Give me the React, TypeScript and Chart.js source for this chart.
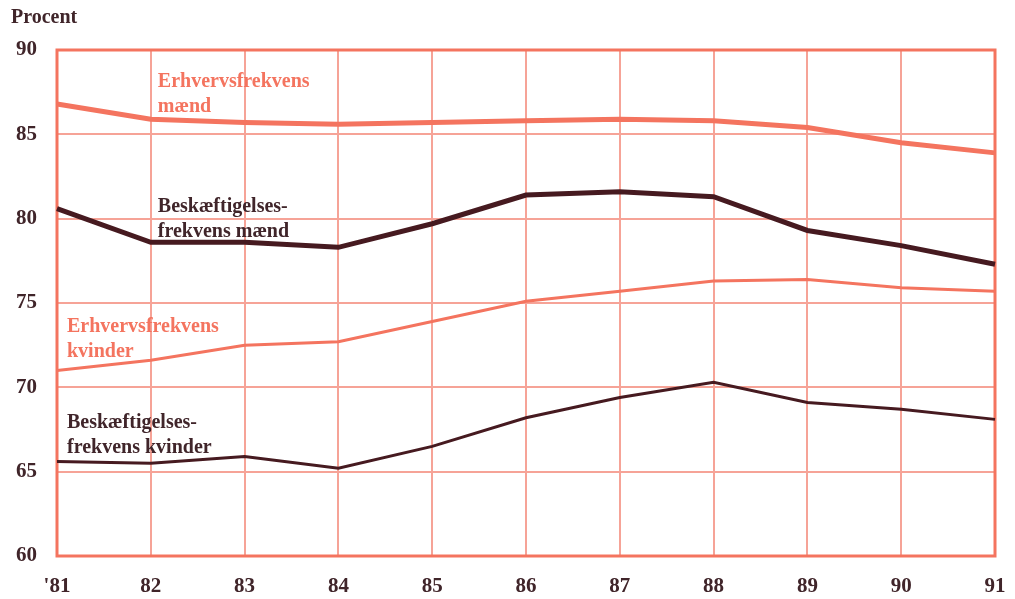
import React, { useEffect, useRef } from "react";
import { Chart, registerables } from "chart.js";

Chart.register(...registerables);

const years = ["'81", "82", "83", "84", "85", "86", "87", "88", "89", "90", "91"];
const erhvMaend = [86.8, 85.9, 85.7, 85.6, 85.7, 85.8, 85.9, 85.8, 85.4, 84.5, 83.9];
const beskMaend = [80.6, 78.6, 78.6, 78.3, 79.7, 81.4, 81.6, 81.3, 79.3, 78.4, 77.3];
const erhvKvinder = [71.0, 71.6, 72.5, 72.7, 73.9, 75.1, 75.7, 76.3, 76.4, 75.9, 75.7];
const beskKvinder = [65.6, 65.5, 65.9, 65.2, 66.5, 68.2, 69.4, 70.3, 69.1, 68.7, 68.1];
const yTicks = [60, 65, 70, 75, 80, 85, 90];

const SALMON = "#f4745f";
const GRID = "#f6a397";
const DARK = "#461a20";
const TEXT = "#40252a";
const FONT = "'Liberation Serif', 'DejaVu Serif', serif";

type Note = { lines: string[]; xIndex: number; yValue: number; color: string; dx: number };
const notes: Note[] = [
  { lines: ["Erhvervsfrekvens", "mænd"], xIndex: 1, yValue: 88.1, color: SALMON, dx: 7 },
  { lines: ["Beskæftigelses-", "frekvens mænd"], xIndex: 1, yValue: 80.7, color: TEXT, dx: 7 },
  { lines: ["Erhvervsfrekvens", "kvinder"], xIndex: 0, yValue: 73.6, color: SALMON, dx: 10 },
  { lines: ["Beskæftigelses-", "frekvens kvinder"], xIndex: 0, yValue: 67.9, color: TEXT, dx: 10 },
];

const notesPlugin = {
  id: "notes",
  afterDatasetsDraw(chart: any) {
    const ctx = chart.ctx;
    const xs = chart.scales.x;
    const ys = chart.scales.y;
    ctx.save();
    ctx.font = `bold 20px ${FONT}`;
    ctx.textAlign = "left";
    ctx.textBaseline = "middle";
    for (const n of notes) {
      const x = xs.getPixelForValue(n.xIndex) + n.dx;
      const y = ys.getPixelForValue(n.yValue);
      ctx.fillStyle = n.color;
      n.lines.forEach((l, i) => ctx.fillText(l, x, y + i * 25));
    }
    ctx.fillStyle = TEXT;
    ctx.font = `bold 20px ${FONT}`;
    ctx.textBaseline = "middle";
    ctx.fillText("Procent", 11, 18);
    ctx.restore();
  },
  beforeDatasetsDraw(chart: any) {
    const { ctx, chartArea } = chart;
    ctx.save();
    ctx.strokeStyle = SALMON;
    ctx.lineWidth = 3;
    ctx.strokeRect(chartArea.left, chartArea.top, chartArea.right - chartArea.left, chartArea.bottom - chartArea.top);
    ctx.restore();
  },
};

export default function App() {
  const ref = useRef<HTMLCanvasElement>(null);
  useEffect(() => {
    document.body.style.margin = "0";
    const chart = new Chart(ref.current!, {
      type: "line",
      data: {
        labels: years,
        datasets: [
          { label: "Erhvervsfrekvens mænd", data: erhvMaend, borderColor: SALMON, borderWidth: 5, pointRadius: 0, tension: 0 },
          { label: "Beskæftigelsesfrekvens mænd", data: beskMaend, borderColor: DARK, borderWidth: 5, pointRadius: 0, tension: 0 },
          { label: "Erhvervsfrekvens kvinder", data: erhvKvinder, borderColor: SALMON, borderWidth: 3, pointRadius: 0, tension: 0 },
          { label: "Beskæftigelsesfrekvens kvinder", data: beskKvinder, borderColor: DARK, borderWidth: 3, pointRadius: 0, tension: 0 },
        ],
      },
      options: {
        animation: false,
        responsive: false,
        layout: { padding: { top: 50, right: 20, left: 0, bottom: 0 } },
        plugins: { legend: { display: false }, tooltip: { enabled: false } },
        scales: {
          x: {
            offset: false,
            grid: { color: GRID, lineWidth: 2, drawTicks: false },
            border: { display: false },
            ticks: { color: TEXT, font: { family: FONT, size: 21, weight: "bold" }, padding: 18, maxRotation: 0 },
            afterFit(s: any) { s.height = 43; s.paddingRight = 0; s.paddingLeft = 0; },
          },
          y: {
            min: 60,
            max: 90,
            afterBuildTicks(s: any) { s.ticks = yTicks.map((v) => ({ value: v })); },
            grid: { color: GRID, lineWidth: 2, drawTicks: false },
            border: { display: false },
            ticks: { color: TEXT, font: { family: FONT, size: 21, weight: "bold" }, padding: 20 },
            afterFit(s: any) { s.width = 57; s.paddingTop = 0; s.paddingBottom = 0; },
          },
        },
      },
      plugins: [notesPlugin],
    });
    return () => chart.destroy();
  }, []);
  return (
    <div style={{ position: "absolute", left: 0, top: 0, width: 1015, height: 599, background: "#fff" }}>
      <canvas ref={ref} width={1015} height={599} />
    </div>
  );
}
